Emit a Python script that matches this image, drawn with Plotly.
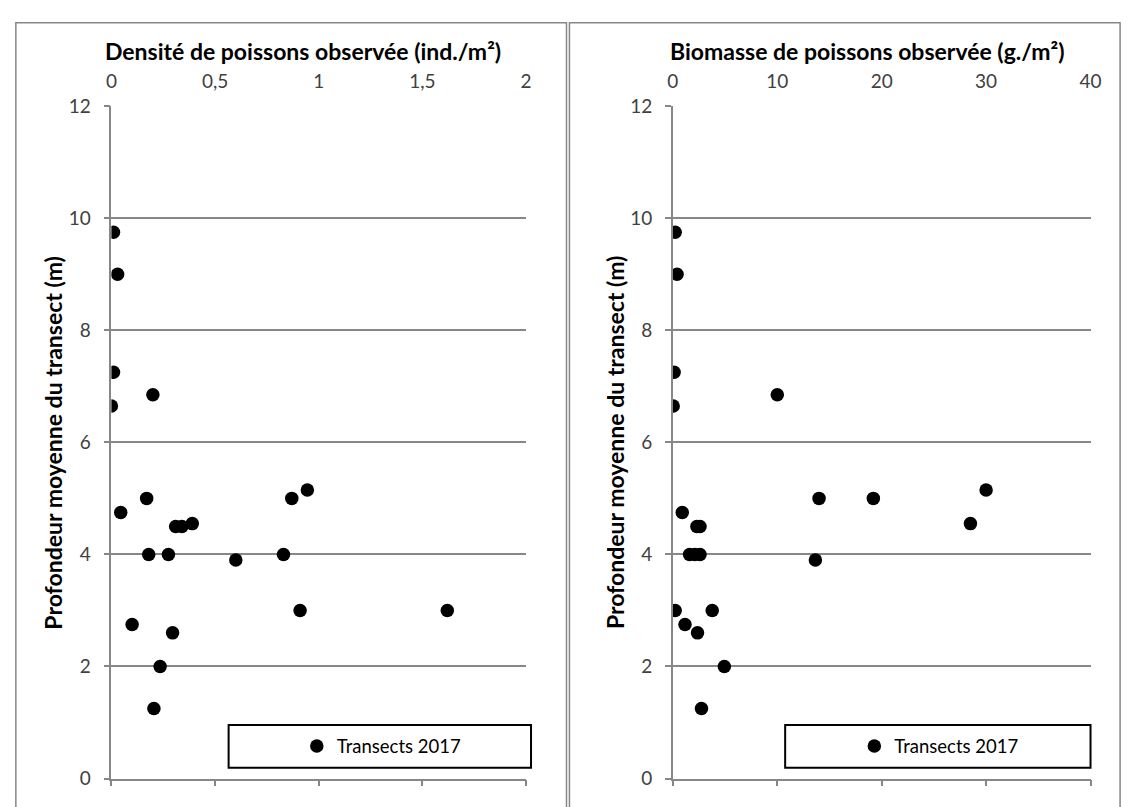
import plotly.graph_objects as go

# Transects 2017: mean depth (m), observed fish density (ind./m²) and biomass (g./m²)
depth = [9.75, 9.0, 7.25, 6.65, 6.85, 5.15, 5.0, 5.0, 4.75, 4.5, 4.5, 4.55,
         4.0, 4.0, 4.0, 3.9, 3.0, 3.0, 2.75, 2.6, 2.0, 1.25]
density = [0.01, 0.03, 0.01, 0.0, 0.2, 0.945, 0.17, 0.87, 0.045, 0.31, 0.34, 0.39,
           0.18, 0.275, 0.83, 0.6, 0.91, 1.62, 0.1, 0.295, 0.235, 0.205]
biomass = [0.22, 0.4, 0.12, 0.03, 10.0, 30.0, 14.0, 19.2, 0.9, 2.3, 2.6, 28.5,
           1.6, 2.1, 2.6, 13.65, 0.22, 3.77, 1.16, 2.36, 4.93, 2.74]

series_name = "Transects 2017"
title_density = "Densité de poissons observée (ind./m²)"
title_biomass = "Biomasse de poissons observée (g./m²)"
title_depth = "Profondeur moyenne du transect (m)"
density_ticks = [0, 0.5, 1, 1.5, 2]
density_labels = ["0", "0,5", "1", "1,5", "2"]
biomass_ticks = [0, 10, 20, 30, 40]
depth_ticks = [0, 2, 4, 6, 8, 10, 12]

W, H = 1136, 807
FONT = "Lato"
GRID = "#878787"
TICKTXT = "#404040"

def px(x):
    return x / W

def py(y):
    return 1 - y / H

left_dom = [px(107), px(528)]
right_dom = [px(677), px(1101)]
y_dom = [py(789), py(97)]

fig = go.Figure()

marker = dict(color="black", size=13.5, symbol="circle")

fig.add_trace(go.Scatter(x=density, y=depth, mode="markers", marker=marker,
                         name=series_name, xaxis="x", yaxis="y", legend="legend",
                         hoverinfo="x+y"))
fig.add_trace(go.Scatter(x=biomass, y=depth, mode="markers", marker=marker,
                         name=series_name, xaxis="x2", yaxis="y2", legend="legend2",
                         hoverinfo="x+y"))
# invisible copies so the bottom tick axes get drawn
fig.add_trace(go.Scatter(x=density, y=depth, mode="markers", marker=dict(opacity=0),
                         showlegend=False, hoverinfo="skip", xaxis="x3", yaxis="y"))
fig.add_trace(go.Scatter(x=biomass, y=depth, mode="markers", marker=dict(opacity=0),
                         showlegend=False, hoverinfo="skip", xaxis="x4", yaxis="y2"))

tickfont = dict(family=FONT, size=19, color=TICKTXT)

top_axis = dict(side="top", showgrid=False, showline=False, ticks="", zeroline=False,
                tickfont=tickfont, ticklabelstandoff=13)
bottom_axis = dict(side="bottom", showgrid=False, showline=True, linecolor=GRID,
                   linewidth=1.5, ticks="outside", ticklen=6, tickwidth=1.5,
                   tickcolor=GRID, showticklabels=False, zeroline=False)
y_axis = dict(range=[0, 12], tickvals=depth_ticks, showgrid=True, gridcolor=GRID,
              gridwidth=1.5, showline=True, linecolor=GRID, linewidth=1.5,
              ticks="outside", ticklen=6, tickwidth=1.5, tickcolor=GRID,
              zeroline=False, tickfont=tickfont, ticklabelstandoff=9, domain=y_dom)

legend_font = dict(family=FONT, size=18.5, color="black")

fig.update_layout(
    width=W, height=H,
    margin=dict(l=0, r=0, t=0, b=0),
    paper_bgcolor="white", plot_bgcolor="white",
    font=dict(family=FONT, color="black"),
    xaxis=dict(top_axis, domain=left_dom, range=[0, 2], tickvals=density_ticks,
               ticktext=density_labels, anchor="y"),
    xaxis3=dict(bottom_axis, range=[0, 2], tickvals=density_ticks, anchor="y",
                overlaying="x"),
    xaxis2=dict(top_axis, domain=right_dom, range=[0, 40], tickvals=biomass_ticks,
                anchor="y2"),
    xaxis4=dict(bottom_axis, range=[0, 40], tickvals=biomass_ticks, anchor="y2",
                overlaying="x2"),
    yaxis=dict(y_axis, anchor="x"),
    yaxis2=dict(y_axis, anchor="x2"),
    legend=dict(x=px(381), y=py(756), xanchor="center", yanchor="middle",
                bgcolor="rgba(0,0,0,0)", borderwidth=0, font=legend_font),
    legend2=dict(x=px(947), y=py(756), xanchor="center", yanchor="middle",
                 bgcolor="rgba(0,0,0,0)", borderwidth=0, font=legend_font),
    showlegend=True,
)

# panel frames and legend boxes
shapes = []
for x0, x1 in [(10, 569), (572, 1131)]:
    shapes.append(dict(type="rect", xref="paper", yref="paper",
                       x0=px(x0), x1=px(x1), y0=py(H + 20), y1=py(11),
                       line=dict(color=GRID, width=1.5), fillcolor="rgba(0,0,0,0)",
                       layer="below"))
for x0, x1 in [(226, 533), (791, 1101)]:
    shapes.append(dict(type="rect", xref="paper", yref="paper",
                       x0=px(x0), x1=px(x1), y0=py(778), y1=py(734),
                       line=dict(color="black", width=2), fillcolor="white",
                       layer="above"))
fig.update_layout(shapes=shapes)

# axis titles
title_font = dict(family=FONT, size=23, color="black")
annotations = [
    dict(text="<b>%s</b>" % title_density, x=px(302), y=py(40), xref="paper",
         yref="paper", showarrow=False, font=title_font, xanchor="center",
         yanchor="middle"),
    dict(text="<b>%s</b>" % title_biomass, x=px(875), y=py(40), xref="paper",
         yref="paper", showarrow=False, font=title_font, xanchor="center",
         yanchor="middle"),
    dict(text="<b>%s</b>" % title_depth, x=px(48), y=py(443), xref="paper",
         yref="paper", showarrow=False, font=title_font, textangle=-90,
         xanchor="center", yanchor="middle"),
    dict(text="<b>%s</b>" % title_depth, x=px(619), y=py(443), xref="paper",
         yref="paper", showarrow=False, font=title_font, textangle=-90,
         xanchor="center", yanchor="middle"),
]
fig.update_layout(annotations=annotations)

fig.write_html("out.html")
